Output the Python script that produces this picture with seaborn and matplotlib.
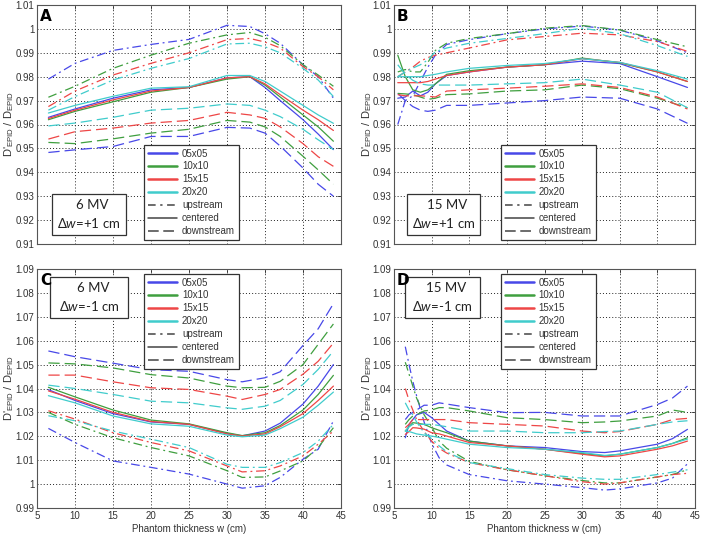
import numpy as np
import pandas as pd
import matplotlib
matplotlib.use("Agg")
import matplotlib.pyplot as plt
from matplotlib.lines import Line2D
from matplotlib.patches import Rectangle
from matplotlib.ticker import FuncFormatter, MultipleLocator
import seaborn as sns

# ---------------- data ----------------
FIELDS = ["05x05", "10x10", "15x15", "20x20"]
POSITIONS = ["upstream", "centered", "downstream"]
COLORS = ["#4848e8", "#3f9f3f", "#ee4646", "#40cccc"]

# Panel A : 6 MV, dw=+1 cm
A_X = [6.5, 10, 15, 20, 25, 30, 33, 35, 37, 40, 42, 44]
A_UP = [
    [0.979, 0.9856, 0.991, 0.9935, 0.9956, 1.0015, 1.001, 0.998, 0.994, 0.985, 0.980, 0.971],
    [0.9714, 0.976, 0.9835, 0.989, 0.994, 0.9975, 0.9985, 0.9965, 0.993, 0.985, 0.9807, 0.976],
    [0.9675, 0.974, 0.9807, 0.9856, 0.990, 0.9955, 0.996, 0.9945, 0.992, 0.9842, 0.980, 0.9745],
    [0.966, 0.9717, 0.9786, 0.9835, 0.9876, 0.9937, 0.994, 0.9925, 0.990, 0.9835, 0.9786, 0.9717],
]
A_CEN = [
    [0.963, 0.9665, 0.971, 0.9745, 0.9755, 0.9795, 0.980, 0.9755, 0.970, 0.962, 0.956, 0.9495],
    [0.962, 0.9655, 0.9695, 0.9735, 0.9755, 0.979, 0.980, 0.9765, 0.9715, 0.964, 0.959, 0.953],
    [0.9625, 0.966, 0.9703, 0.974, 0.9755, 0.9795, 0.980, 0.977, 0.9725, 0.966, 0.962, 0.9575],
    [0.9648, 0.968, 0.9718, 0.9752, 0.9758, 0.9805, 0.9805, 0.978, 0.974, 0.968, 0.964, 0.9605],
]
A_DOWN = [
    [0.9483, 0.9494, 0.9508, 0.955, 0.955, 0.9588, 0.9585, 0.9564, 0.951, 0.9418, 0.935, 0.930],
    [0.9525, 0.952, 0.954, 0.9564, 0.958, 0.9617, 0.961, 0.959, 0.955, 0.9467, 0.941, 0.935],
    [0.9539, 0.957, 0.9585, 0.9606, 0.9617, 0.9651, 0.964, 0.9626, 0.959, 0.952, 0.9465, 0.9425],
    [0.9594, 0.9606, 0.963, 0.966, 0.9668, 0.9686, 0.968, 0.966, 0.9633, 0.958, 0.9536, 0.9495],
]

# Panel B : 15 MV, dw=+1 cm
B_X = [5.5, 6.5, 7.5, 8.5, 9.5, 10.5, 12, 15, 20, 25, 30, 35, 40, 44]
B_UP = [
    [0.960, 0.970, 0.972, 0.978, 0.984, 0.989, 0.9935, 0.9955, 0.998, 1.000, 1.0012, 0.9995, 0.995, 0.990],
    [0.982, 0.983, 0.982, 0.982, 0.986, 0.991, 0.994, 0.996, 0.998, 1.0003, 1.0014, 0.9996, 0.9955, 0.9925],
    [0.980, 0.982, 0.984, 0.9865, 0.988, 0.989, 0.990, 0.992, 0.9954, 0.9968, 0.9982, 0.9975, 0.9947, 0.9906],
    [0.980, 0.982, 0.9836, 0.985, 0.987, 0.9905, 0.992, 0.994, 0.996, 0.998, 1.0003, 0.998, 0.993, 0.9885],
]
B_CEN = [
    [0.971, 0.9715, 0.974, 0.972, 0.9735, 0.977, 0.9805, 0.982, 0.984, 0.985, 0.9865, 0.9855, 0.980, 0.9755],
    [0.989, 0.980, 0.9745, 0.9735, 0.9745, 0.977, 0.981, 0.9825, 0.984, 0.985, 0.9878, 0.9858, 0.982, 0.978],
    [0.9775, 0.9775, 0.9775, 0.9775, 0.978, 0.979, 0.9805, 0.982, 0.984, 0.985, 0.9875, 0.986, 0.982, 0.978],
    [0.980, 0.980, 0.980, 0.980, 0.9805, 0.981, 0.982, 0.9835, 0.9847, 0.9855, 0.9875, 0.986, 0.9825, 0.979],
]
B_DOWN = [
    [0.973, 0.970, 0.9675, 0.966, 0.9655, 0.966, 0.968, 0.968, 0.969, 0.970, 0.9715, 0.971, 0.9665, 0.9605],
    [0.973, 0.9728, 0.9725, 0.9715, 0.9705, 0.971, 0.9725, 0.9728, 0.974, 0.9745, 0.9765, 0.975, 0.971, 0.967],
    [0.9725, 0.972, 0.972, 0.972, 0.9718, 0.9715, 0.974, 0.9745, 0.9752, 0.976, 0.977, 0.9755, 0.9715, 0.9665],
    [0.985, 0.981, 0.9785, 0.977, 0.9765, 0.9765, 0.9765, 0.9765, 0.977, 0.9775, 0.979, 0.9765, 0.9735, 0.967],
]

# Panel C : 6 MV, dw=-1 cm
C_X = [6.5, 10, 15, 20, 25, 30, 32, 35, 37, 40, 42, 44]
C_UP = [
    [1.0233, 1.0174, 1.0097, 1.007, 1.0042, 1.000, 0.9983, 0.9993, 1.0028, 1.0104, 1.0146, 1.0264],
    [1.030, 1.025, 1.0194, 1.0153, 1.0118, 1.0056, 1.0028, 1.003, 1.0055, 1.0097, 1.0153, 1.0236],
    [1.0307, 1.0272, 1.0215, 1.0174, 1.0139, 1.0076, 1.0051, 1.0056, 1.0076, 1.0118, 1.0167, 1.0222],
    [1.0286, 1.0265, 1.0222, 1.0188, 1.0153, 1.0083, 1.007, 1.007, 1.009, 1.0132, 1.018, 1.025],
]
C_CEN = [
    [1.0395, 1.035, 1.0295, 1.026, 1.025, 1.0212, 1.0202, 1.0222, 1.0255, 1.0335, 1.041, 1.050],
    [1.0405, 1.0365, 1.031, 1.0268, 1.0252, 1.0215, 1.0203, 1.0215, 1.0245, 1.031, 1.0375, 1.0455],
    [1.039, 1.0355, 1.030, 1.0262, 1.025, 1.021, 1.0201, 1.021, 1.024, 1.0295, 1.035, 1.041],
    [1.037, 1.034, 1.0285, 1.0252, 1.0242, 1.0205, 1.0198, 1.0205, 1.0232, 1.028, 1.033, 1.0385],
]
C_DOWN = [
    [1.0557, 1.0533, 1.0506, 1.0479, 1.0472, 1.0437, 1.0428, 1.0445, 1.047, 1.058, 1.065, 1.0755],
    [1.0507, 1.0503, 1.0486, 1.0458, 1.0444, 1.041, 1.0403, 1.0405, 1.043, 1.050, 1.0585, 1.067],
    [1.0456, 1.0456, 1.0428, 1.0403, 1.0396, 1.0368, 1.0354, 1.0375, 1.0396, 1.046, 1.0514, 1.059],
    [1.0414, 1.040, 1.0375, 1.0347, 1.034, 1.0319, 1.0313, 1.0326, 1.035, 1.0417, 1.048, 1.0557],
]

# Panel D : 15 MV, dw=-1 cm
D_X = [6.5, 7, 7.5, 8, 9, 10, 11, 12, 15, 20, 25, 30, 33, 35, 40, 42, 44]
D_UP = [
    [1.0575, 1.050, 1.043, 1.037, 1.026, 1.017, 1.011, 1.008, 1.004, 1.0014, 1.000, 0.9985, 0.9975, 0.998, 1.0005, 1.0025, 1.0085],
    [1.051, 1.046, 1.041, 1.036, 1.029, 1.024, 1.018, 1.015, 1.0095, 1.006, 1.0035, 1.0015, 1.0005, 1.0005, 1.003, 1.004, 1.006],
    [1.040, 1.035, 1.031, 1.027, 1.022, 1.018, 1.015, 1.013, 1.009, 1.006, 1.0035, 1.001, 1.000, 1.0005, 1.003, 1.004, 1.0045],
    [1.034, 1.031, 1.029, 1.026, 1.0215, 1.019, 1.016, 1.0135, 1.009, 1.0065, 1.004, 1.0025, 1.002, 1.002, 1.004, 1.005, 1.006],
]
D_CEN = [
    [1.0194, 1.025, 1.027, 1.029, 1.030, 1.0278, 1.025, 1.0222, 1.018, 1.016, 1.0153, 1.0136, 1.0132, 1.0139, 1.0167, 1.019, 1.0229],
    [1.0222, 1.024, 1.0257, 1.0255, 1.025, 1.0236, 1.0225, 1.0215, 1.018, 1.016, 1.0146, 1.0128, 1.0118, 1.0125, 1.0153, 1.017, 1.0194],
    [1.0208, 1.022, 1.0236, 1.0235, 1.023, 1.0215, 1.021, 1.0201, 1.0174, 1.016, 1.0146, 1.0125, 1.0114, 1.0118, 1.0146, 1.016, 1.018],
    [1.0222, 1.022, 1.0215, 1.021, 1.0205, 1.0201, 1.0195, 1.0188, 1.0167, 1.0153, 1.0146, 1.0132, 1.012, 1.0125, 1.0153, 1.017, 1.0188],
]
D_DOWN = [
    [1.027, 1.029, 1.030, 1.031, 1.033, 1.033, 1.034, 1.0335, 1.032, 1.0299, 1.030, 1.0285, 1.0285, 1.0285, 1.0333, 1.036, 1.041],
    [1.025, 1.027, 1.0285, 1.029, 1.0306, 1.031, 1.032, 1.032, 1.0306, 1.0278, 1.027, 1.0257, 1.026, 1.0264, 1.0285, 1.031, 1.030],
    [1.0236, 1.025, 1.027, 1.027, 1.027, 1.027, 1.027, 1.027, 1.0257, 1.025, 1.0243, 1.0222, 1.0215, 1.022, 1.025, 1.027, 1.0275],
    [1.0222, 1.024, 1.025, 1.025, 1.025, 1.025, 1.0245, 1.024, 1.0222, 1.0222, 1.0215, 1.0215, 1.022, 1.0222, 1.025, 1.026, 1.0265],
]

PANEL_LETTERS = ["A", "B", "C", "D"]
PANEL_ENERGY = ["6 MV", "15 MV", "6 MV", "15 MV"]
PANEL_DW = ["+1", "+1", "-1", "-1"]
X_LABEL = "Phantom thickness w (cm)"
Y_LABEL = r"D'$_{\mathsf{EPID}}$ / D$_{\mathsf{EPID}}$"

# ---------------- style ----------------
sns.set_theme(style="white")
plt.rcParams["font.family"] = ["Liberation Sans", "DejaVu Sans"]
plt.rcParams["mathtext.fontset"] = "custom"
plt.rcParams["mathtext.rm"] = "Lato"
plt.rcParams["mathtext.it"] = "Lato:italic"
plt.rcParams["mathtext.sf"] = "Liberation Sans"

DASHES = {"upstream": (7, 3, 1.5, 3), "centered": "", "downstream": (9, 4)}


def make_df(x, up, cen, down):
    rows = []
    for pos, block in zip(POSITIONS, [up, cen, down]):
        for field, vals in zip(FIELDS, block):
            for xv, yv in zip(x, vals):
                rows.append((xv, yv, field, pos))
    return pd.DataFrame(rows, columns=["w", "ratio", "field", "position"])


panels = [
    (A_X, A_UP, A_CEN, A_DOWN),
    (B_X, B_UP, B_CEN, B_DOWN),
    (C_X, C_UP, C_CEN, C_DOWN),
    (D_X, D_UP, D_CEN, D_DOWN),
]

W, H = 704, 534
fig = plt.figure(figsize=(W / 100, H / 100), dpi=100)

# axes rectangles in pixel coordinates (left, top, right, bottom)
AX_PX = [(37, 5, 341, 244), (394, 5, 695, 244), (37, 269, 341, 508), (394, 269, 695, 508)]
YLIMS = [(0.91, 1.01), (0.91, 1.01), (0.99, 1.09), (0.99, 1.09)]
LEG_POS = [(0.352, 0.017), (0.355, 0.017), (0.352, 0.582), (0.355, 0.582)]
BOX_POS = [(0.049, 0.038, 0.244, 0.171), (0.043, 0.038, 0.243, 0.171),
           (0.043, 0.795, 0.256, 0.172), (0.037, 0.795, 0.249, 0.172)]

fmt = FuncFormatter(lambda v, p: (f"{v:.2f}".rstrip("0").rstrip(".")))

for i, (data, (l, t, r, b)) in enumerate(zip(panels, AX_PX)):
    ax = fig.add_axes([l / W, (H - b) / H, (r - l) / W, (b - t) / H])
    df = make_df(*data)
    sns.lineplot(data=df, x="w", y="ratio", hue="field", style="position",
                 hue_order=FIELDS, style_order=POSITIONS, palette=COLORS,
                 dashes=DASHES, estimator=None, sort=False, legend=False,
                 lw=0.9, ax=ax)
    ax.set_xlim(5, 45)
    ax.set_ylim(*YLIMS[i])
    ax.xaxis.set_major_locator(MultipleLocator(5))
    ax.yaxis.set_major_locator(MultipleLocator(0.01))
    ax.yaxis.set_major_formatter(fmt)
    ax.grid(True, color="#222222", linestyle=(0, (1, 2.2)), lw=0.7)
    for s in ax.spines.values():
        s.set_color("#555555")
        s.set_linewidth(0.8)
    ax.tick_params(direction="in", length=3, width=0.6, colors="#333333",
                   labelsize=7, top=True, right=True, pad=2)
    ax.set_ylabel(Y_LABEL, fontsize=8, color="#333333")
    ax.yaxis.set_label_coords(-0.068, 0.5)
    if i < 2:
        ax.tick_params(labelbottom=False)
        ax.set_xlabel("")
    else:
        ax.set_xlabel(X_LABEL, fontsize=7, labelpad=2, color="#333333")

    # panel letter
    ax.text(0.01, 0.985, PANEL_LETTERS[i], transform=ax.transAxes,
            fontsize=11, fontweight="bold", ha="left", va="top", color="black",
            family="DejaVu Sans", zorder=6)

    # annotation box
    bx, by, bw, bh = BOX_POS[i]
    ax.add_patch(Rectangle((bx, by), bw, bh, transform=ax.transAxes,
                           facecolor="white", edgecolor="#333333", lw=0.9, zorder=5))
    ax.text(bx + bw * 0.55, by + bh * 0.72, PANEL_ENERGY[i], transform=ax.transAxes,
            ha="center", va="center", fontsize=9.5, family="Lato", color="#222222", zorder=6)
    ax.text(bx + bw * 0.5, by + bh * 0.30, "Δ$\\mathit{w}$=" + PANEL_DW[i] + " cm",
            transform=ax.transAxes, ha="center", va="center", fontsize=9.5,
            family="Lato", color="#222222", zorder=6)

    # legend
    handles = [Line2D([], [], color=c, lw=1.8) for c in COLORS]
    handles += [
        Line2D([], [], color="#444444", lw=1.1, dashes=(5, 3, 1.5, 3)),
        Line2D([], [], color="#444444", lw=1.1),
        Line2D([], [], color="#444444", lw=1.1, dashes=(7, 3)),
    ]
    labels = FIELDS + POSITIONS
    leg = ax.legend(handles, labels, loc="lower left", bbox_to_anchor=LEG_POS[i],
                    frameon=True, fancybox=False, framealpha=1, edgecolor="#333333",
                    fontsize=7, handlelength=3.0, handletextpad=0.5, borderpad=0.4,
                    labelspacing=0.3, borderaxespad=0)
    leg.get_frame().set_linewidth(0.9)
    for txt in leg.get_texts():
        txt.set_color("#333333")

fig.savefig("out.png", dpi=100)
